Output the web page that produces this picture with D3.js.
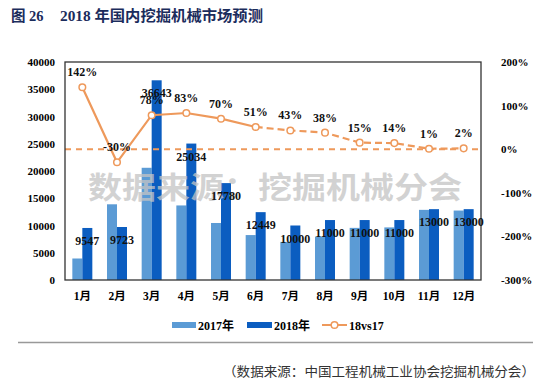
<!DOCTYPE html>
<html><head><meta charset="utf-8">
<script src="https://cdn.jsdelivr.net/npm/d3@7"></script>
<style>
body{margin:0;background:#fff;}
svg{display:block;}
</style></head>
<body>
<svg id="c" width="550" height="385"></svg>
<script>
const months = ["1月","2月","3月","4月","5月","6月","7月","8月","9月","10月","11月","12月"];
const sales2017 = [3945, 13890, 20590, 13680, 10460, 8245, 6995, 7970, 9565, 9650, 12870, 12745];
const sales2018 = [9547, 9723, 36643, 25034, 17780, 12449, 10000, 11000, 11000, 11000, 13000, 13000];
const growth = [142, -30, 78, 83, 70, 51, 43, 38, 15, 14, 1, 2];
const leftTicks = [0,5000,10000,15000,20000,25000,30000,35000,40000];
const rightTicks = [-300,-200,-100,0,100,200];
const legendLabels = ["2017年","2018年","18vs17"];

const svg = d3.select("#c");
const L=65, R=481, T=62, B=280;
const serif = "'Liberation Serif','Times New Roman','Noto Sans CJK SC',serif";
const c17="#5B9BD5", c18="#0B5DC0", cLine="#EE995B";

// title
const tt = svg.append("text").attr("y",21).attr("fill","#1B2C5C")
  .attr("font-family",serif).attr("font-weight","bold").attr("font-size",14.5);
tt.append("tspan").attr("x",11).text("图 26");
tt.append("tspan").attr("x",60).attr("textLength",203).attr("lengthAdjust","spacingAndGlyphs").text("2018 年国内挖掘机械市场预测");

const x = d3.scaleBand().domain(months).range([L,R]).paddingInner(0).paddingOuter(0);
const y = d3.scaleLinear().domain([0,40000]).range([B,T]);
const y2 = d3.scaleLinear().domain([-300,200]).range([B,T]);
const bw = 10;

// bars
const g = svg.append("g");
g.selectAll(".b17").data(months).join("rect")
  .attr("x",d=>x(d)+x.bandwidth()/2-bw).attr("width",bw)
  .attr("y",(d,i)=>y(sales2017[i])).attr("height",(d,i)=>B-y(sales2017[i])).attr("fill",c17);
g.selectAll(".b18").data(months).join("rect")
  .attr("x",d=>x(d)+x.bandwidth()/2).attr("width",bw)
  .attr("y",(d,i)=>y(sales2018[i])).attr("height",(d,i)=>B-y(sales2018[i])).attr("fill",c18);

// zero line on right axis
g.append("line").attr("x1",L).attr("x2",R).attr("y1",y2(0)).attr("y2",y2(0))
  .attr("stroke",cLine).attr("stroke-width",2).attr("stroke-dasharray","6,5");

// growth line
const cx = d=>x(d)+x.bandwidth()/2;
const pts = months.map((m,i)=>[cx(m), y2(growth[i])]);
const line = d3.line();
g.append("path").attr("d",line(pts.slice(0,6))).attr("fill","none").attr("stroke",cLine).attr("stroke-width",2.2);
g.append("path").attr("d",line(pts.slice(5))).attr("fill","none").attr("stroke",cLine).attr("stroke-width",2.2).attr("stroke-dasharray","7,4");
g.selectAll(".pt").data(pts).join("circle").attr("cx",d=>d[0]).attr("cy",d=>d[1]).attr("r",3.3)
  .attr("fill","#fff").attr("stroke",cLine).attr("stroke-width",1.5);

// frame
svg.append("rect").attr("x",L).attr("y",T).attr("width",R-L).attr("height",B-T)
  .attr("fill","none").attr("stroke","#333").attr("stroke-width",1.3);

// axes
const ax = svg.append("g").attr("transform",`translate(${L},0)`)
  .call(d3.axisLeft(y).tickValues(leftTicks).tickSize(0).tickPadding(10).tickFormat(d3.format("d")));
ax.select(".domain").remove();
ax.selectAll("text").attr("font-family",serif).attr("font-weight","bold").attr("font-size",11).attr("fill","#000");

const ax2 = svg.append("g").attr("transform",`translate(${R},0)`)
  .call(d3.axisRight(y2).tickValues(rightTicks).tickSize(0).tickPadding(20).tickFormat(d=>d+"%"));
ax2.select(".domain").remove();
ax2.selectAll("text").attr("font-family",serif).attr("font-weight","bold").attr("font-size",11).attr("fill","#000");

const ax3 = svg.append("g").attr("transform",`translate(0,${B})`)
  .call(d3.axisBottom(x).tickSize(0).tickPadding(12));
ax3.select(".domain").remove();
ax3.selectAll("text").attr("font-family",serif).attr("font-weight","bold").attr("font-size",11.5).attr("fill","#000");

// watermark
svg.append("text").attr("x",88).attr("y",198).attr("textLength",374).attr("lengthAdjust","spacingAndGlyphs")
  .attr("font-family","'Noto Sans CJK SC',sans-serif").attr("font-weight","bold").attr("font-size",30)
  .attr("fill","#c4c4c4").attr("fill-opacity",0.75)
  .text("数据来源：挖掘机械分会");

// value labels
svg.selectAll(".vl").data(months).join("text")
  .attr("x",d=>x(d)+x.bandwidth()/2+bw/2).attr("y",(d,i)=>y(sales2018[i])+17)
  .attr("text-anchor","middle").attr("font-family",serif).attr("font-weight","bold").attr("font-size",12)
  .attr("fill","#111").text((d,i)=>sales2018[i]);
svg.selectAll(".gl").data(months).join("text")
  .attr("x",d=>cx(d)).attr("y",(d,i)=>y2(growth[i])-11)
  .attr("text-anchor","middle").attr("font-family",serif).attr("font-weight","bold").attr("font-size",12)
  .attr("fill","#111").text((d,i)=>growth[i]+"%");

// legend
const lg = svg.append("g").attr("font-family",serif).attr("font-weight","bold").attr("font-size",12);
lg.append("rect").attr("x",172).attr("y",322).attr("width",24).attr("height",6).attr("fill",c17);
lg.append("text").attr("x",198).attr("y",329.5).text(legendLabels[0]);
lg.append("rect").attr("x",247).attr("y",322).attr("width",25).attr("height",6).attr("fill",c18);
lg.append("text").attr("x",274).attr("y",329.5).text(legendLabels[1]);
lg.append("line").attr("x1",322).attr("x2",347).attr("y1",325).attr("y2",325).attr("stroke",cLine).attr("stroke-width",2);
lg.append("circle").attr("cx",334.5).attr("cy",325).attr("r",3.3).attr("fill","#fff").attr("stroke",cLine).attr("stroke-width",1.5);
lg.append("text").attr("x",349).attr("y",329.5).text(legendLabels[2]);

// separator & source
svg.append("line").attr("x1",18).attr("x2",533).attr("y1",342.5).attr("y2",342.5).attr("stroke","#999").attr("stroke-width",1.3);
svg.append("text").attr("x",223).attr("y",376).attr("textLength",312).attr("lengthAdjust","spacingAndGlyphs")
  .attr("font-family","'Noto Sans CJK SC',sans-serif").attr("font-size",13).attr("fill","#333")
  .text("（数据来源：中国工程机械工业协会挖掘机械分会）");
</script>
</body></html>
